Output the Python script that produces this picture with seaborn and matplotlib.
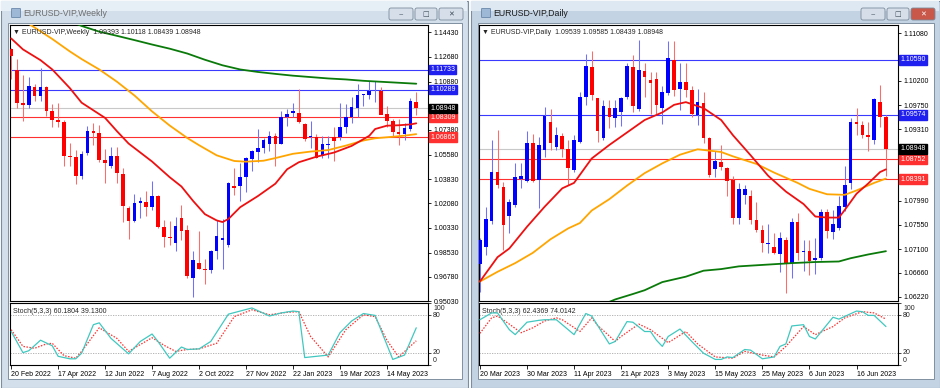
import numpy as np
import matplotlib
matplotlib.use("Agg")
import matplotlib.pyplot as plt
from matplotlib.patches import Rectangle, FancyBboxPatch
import seaborn as sns

sns.set_style("white")
plt.rcParams['font.family'] = ['Liberation Sans', 'DejaVu Sans']

# ---------------- weekly EURUSD (20 Feb 2022 .. 18 Jun 2023) ----------------
w_open = [1.1323, 1.1174, 1.0930, 1.0915, 1.1050, 1.0983, 1.1046, 1.0877, 1.0807, 1.0797,
          1.0553, 1.0546, 1.0405, 1.0570, 1.0733, 1.0719, 1.0518, 1.0480, 1.0553, 1.0420,
          1.0175, 1.0081, 1.0212, 1.0220, 1.0180, 1.0260, 1.0036, 0.9964, 0.9925, 1.0100,
          1.0014, 0.9666, 0.9774, 0.9733, 0.9726, 0.9864, 0.9944, 0.9905, 1.0332, 1.0330,
          1.0395, 1.0525, 1.0582, 1.0611, 1.0640, 1.0696, 1.0640, 1.0829, 1.0861, 1.0861,
          1.0781, 1.0684, 1.0684, 1.0550, 1.0628, 1.0684, 1.0684, 1.0762, 1.0829, 1.0897,
          1.0990, 1.0987, 1.1016, 1.1023, 1.0854, 1.0805, 1.0720, 1.0708, 1.0745, 1.0939]
w_high = [1.1330, 1.1247, 1.1133, 1.1120, 1.1070, 1.1185, 1.1054, 1.0925, 1.0936, 1.0812,
          1.0642, 1.0590, 1.0587, 1.0765, 1.0787, 1.0774, 1.0601, 1.0614, 1.0615, 1.0464,
          1.0190, 1.0277, 1.0254, 1.0294, 1.0368, 1.0272, 1.0090, 1.0080, 1.0113, 1.0199,
          1.0050, 0.9864, 1.0005, 0.9809, 0.9873, 1.0090, 1.0094, 1.0364, 1.0466, 1.0497,
          1.0545, 1.0595, 1.0745, 1.0680, 1.0732, 1.0713, 1.0874, 1.0890, 1.0931, 1.1031,
          1.0790, 1.0805, 1.0708, 1.0691, 1.0696, 1.0760, 1.0930, 1.0926, 1.0973, 1.1072,
          1.0999, 1.1091, 1.1091, 1.1048, 1.0914, 1.0817, 1.0817, 1.0786, 1.0970, 1.1012]
w_low = [1.1106, 1.0900, 1.0805, 1.0899, 1.0945, 1.0945, 1.0837, 1.0757, 1.0760, 1.0478,
         1.0480, 1.0345, 1.0383, 1.0560, 1.0627, 1.0505, 1.0357, 1.0466, 1.0357, 1.0073,
         0.9951, 1.0073, 1.0102, 1.0120, 1.0160, 1.0033, 0.9896, 0.9910, 0.9864, 0.9944,
         0.9668, 0.9532, 0.9733, 0.9629, 0.9705, 0.9806, 0.9733, 0.9896, 1.0272, 1.0222,
         1.0290, 1.0443, 1.0510, 1.0570, 1.0587, 1.0478, 1.0636, 1.0766, 1.0829, 1.0785,
         1.0660, 1.0611, 1.0533, 1.0533, 1.0538, 1.0516, 1.0667, 1.0713, 1.0788, 1.0829,
         1.0910, 1.0963, 1.0942, 1.0850, 1.0760, 1.0696, 1.0631, 1.0667, 1.0732, 1.0844]
w_close = [1.1270, 1.0930, 1.0918, 1.1053, 1.0983, 1.1046, 1.0877, 1.0807, 1.0797, 1.0551,
           1.0546, 1.0405, 1.0562, 1.0733, 1.0719, 1.0518, 1.0497, 1.0553, 1.0425, 1.0187,
           1.0078, 1.0211, 1.0223, 1.0185, 1.0260, 1.0036, 0.9964, 0.9957, 1.0042, 1.0010,
           0.9685, 0.9799, 0.9733, 0.9724, 0.9864, 0.9969, 0.9956, 1.0357, 1.0320, 1.0395,
           1.0535, 1.0585, 1.0611, 1.0665, 1.0696, 1.0640, 1.0829, 1.0854, 1.0873, 1.0793,
           1.0672, 1.0696, 1.0538, 1.0636, 1.0640, 1.0660, 1.0757, 1.0834, 1.0902, 1.0994,
           1.0992, 1.1016, 1.1023, 1.0849, 1.0805, 1.0720, 1.0708, 1.0752, 1.0946, 1.0895]

# moving averages (bar index, price)
w_ma_red_i = [0, 2, 5, 7, 10, 12, 14, 16, 18, 20, 22, 24, 27, 29, 31, 33, 35, 36, 37, 39,
              42, 45, 47, 49, 52, 55, 58, 61, 62, 64, 66, 68, 69]
w_ma_red = [1.1399, 1.1320, 1.1242, 1.1175, 1.1040, 1.0935, 1.0880, 1.0825, 1.0730, 1.0640,
            1.0575, 1.0510, 1.0397, 1.0330, 1.0225, 1.0130, 1.0085, 1.0073, 1.0095, 1.0180,
            1.0260, 1.0350, 1.0454, 1.0505, 1.0545, 1.0575, 1.0623, 1.0696, 1.0745, 1.0769,
            1.0772, 1.0778, 1.0786]
w_ma_orange_i = [2, 4, 7, 10, 12, 15, 18, 21, 24, 27, 30, 32, 35, 38, 40, 43, 45, 48, 51, 54,
                 57, 60, 62, 65, 67, 69]
w_ma_orange = [1.1530, 1.1478, 1.1395, 1.1305, 1.1250, 1.1175, 1.1087, 1.0987, 1.0872, 1.0770,
               1.0680, 1.0628, 1.0555, 1.0514, 1.0509, 1.0516, 1.0535, 1.0566, 1.0582, 1.0593,
               1.0625, 1.0662, 1.0678, 1.0689, 1.0697, 1.0708]
w_ma_green_i = [10, 12, 15, 18, 21, 24, 27, 30, 33, 36, 39, 42, 45, 48, 51, 54, 57, 60, 63, 66, 69]
w_ma_green = [1.1525, 1.1489, 1.1448, 1.1418, 1.1387, 1.1355, 1.1325, 1.1290, 1.1245, 1.1205,
              1.1175, 1.1157, 1.1143, 1.1130, 1.1120, 1.1110, 1.1103, 1.1093, 1.1086, 1.1079, 1.1072]

# weekly stochastic (5,3,3)
w_st_main_i = [0, 2, 3, 5, 7, 8, 10, 11, 12, 14, 15, 17, 20, 22, 24, 25, 27, 29, 30, 32, 34,
               37, 39, 41, 44, 46, 48, 49, 50, 54, 56, 58, 60, 62, 65, 67, 69]
w_st_main = [54, 20, 23, 40, 31, 14, 10, 10, 19, 65, 68, 43, 18, 38, 50, 38, 11, 29, 25, 26, 38,
             82, 87, 92, 79, 84, 87, 86, 12, 16, 52, 71, 83, 80, 9, 16, 60]
w_st_sig_i = [0, 2, 4, 6, 7, 9, 11, 12, 15, 18, 20, 24, 26, 28, 30, 32, 35, 38, 41, 44, 47,
              49, 51, 54, 57, 60, 62, 64, 66, 69]
w_st_sig = [57, 30, 27, 34, 35, 15, 11, 22, 60, 43, 22, 44, 32, 22, 25, 26, 35, 78, 89, 81, 85,
            86, 46, 13, 57, 81, 78, 40, 13, 39]

# ---------------- daily EURUSD (20 Mar 2023 .. 23 Jun 2023) ----------------
d_open = [1.0683, 1.0714, 1.0762, 1.0853, 1.0825, 1.0771, 1.0791, 1.0840, 1.0836, 1.0905,
          1.0837, 1.0893, 1.0945, 1.0898, 1.0919, 1.0894, 1.0855, 1.0908, 1.0991, 1.1045,
          1.0988, 1.0914, 1.0970, 1.0951, 1.0963, 1.0991, 1.1046, 1.0968, 1.1038, 1.1022,
          1.1023, 1.0970, 1.0997, 1.1059, 1.1006, 1.1019, 1.1003, 1.0957, 1.0979, 1.0914,
          1.0858, 1.0871, 1.0859, 1.0837, 1.0767, 1.0810, 1.0807, 1.0764, 1.0745, 1.0719,
          1.0713, 1.0701, 1.0727, 1.0684, 1.0759, 1.0705, 1.0707, 1.0689, 1.0693, 1.0778,
          1.0742, 1.0748, 1.0788, 1.0831, 1.0945, 1.0939, 1.0921, 1.0912, 1.0982, 1.0954]
d_high = [1.0731, 1.0788, 1.0911, 1.0930, 1.0834, 1.0803, 1.0868, 1.0869, 1.0927, 1.0923,
          1.0916, 1.0972, 1.0968, 1.0936, 1.0924, 1.0911, 1.0920, 1.1000, 1.1070, 1.1076,
          1.0988, 1.0985, 1.0985, 1.0985, 1.0991, 1.1053, 1.1068, 1.1095, 1.1053, 1.1037,
          1.1037, 1.1010, 1.1093, 1.1093, 1.1053, 1.1053, 1.1010, 1.1006, 1.0999, 1.0917,
          1.0890, 1.0902, 1.0862, 1.0845, 1.0831, 1.0829, 1.0819, 1.0796, 1.0754, 1.0756,
          1.0739, 1.0742, 1.0733, 1.0767, 1.0777, 1.0727, 1.0727, 1.0730, 1.0783, 1.0783,
          1.0782, 1.0808, 1.0863, 1.0951, 1.0970, 1.0946, 1.0945, 1.0989, 1.1012, 1.0958]
d_low = [1.0631, 1.0699, 1.0757, 1.0822, 1.0709, 1.0740, 1.0788, 1.0822, 1.0834, 1.0834,
         1.0785, 1.0880, 1.0893, 1.0893, 1.0880, 1.0828, 1.0853, 1.0905, 1.0976, 1.0985,
         1.0908, 1.0911, 1.0933, 1.0936, 1.0937, 1.0986, 1.0963, 1.0965, 1.0991, 1.0960,
         1.0960, 1.0941, 1.0994, 1.0993, 1.0966, 1.0990, 1.0954, 1.0939, 1.0905, 1.0843,
         1.0842, 1.0855, 1.0807, 1.0757, 1.0756, 1.0793, 1.0757, 1.0742, 1.0705, 1.0702,
         1.0701, 1.0668, 1.0629, 1.0656, 1.0690, 1.0670, 1.0662, 1.0664, 1.0690, 1.0730,
         1.0728, 1.0746, 1.0780, 1.0820, 1.0920, 1.0915, 1.0890, 1.0903, 1.0935, 1.0844]
d_close = [1.0727, 1.0765, 1.0853, 1.0828, 1.0754, 1.0797, 1.0842, 1.0844, 1.0905, 1.0836,
           1.0901, 1.0956, 1.0905, 1.0920, 1.0895, 1.0859, 1.0911, 1.0991, 1.1048, 1.0994,
           1.0927, 1.0973, 1.0954, 1.0970, 1.0989, 1.1048, 1.0974, 1.1040, 1.1028, 1.1016,
           1.0976, 1.1000, 1.1062, 1.1003, 1.1019, 1.1004, 1.0960, 1.0982, 1.0914, 1.0847,
           1.0872, 1.0861, 1.0836, 1.0767, 1.0820, 1.0820, 1.0764, 1.0745, 1.0721, 1.0722,
           1.0703, 1.0730, 1.0684, 1.0759, 1.0702, 1.0707, 1.0687, 1.0693, 1.0778, 1.0744,
           1.0756, 1.0790, 1.0829, 1.0945, 1.0941, 1.0920, 1.0916, 1.0986, 1.0954, 1.0895]

d_ma_red_i = [0, 3, 5, 8, 11, 14, 16, 19, 22, 25, 28, 31, 33, 35, 38, 41, 43, 46, 49, 52, 55,
              57, 59, 61, 62, 64, 66, 68, 69]
d_ma_red = [1.0650, 1.0695, 1.0711, 1.0751, 1.0788, 1.0822, 1.0832, 1.0877, 1.0902, 1.0925,
            1.0948, 1.0962, 1.0976, 1.0981, 1.0970, 1.0948, 1.0920, 1.0883, 1.0845, 1.0816,
            1.0793, 1.0770, 1.0768, 1.0768, 1.0782, 1.0812, 1.0831, 1.0852, 1.0857]
d_ma_orange_i = [0, 3, 6, 9, 12, 15, 17, 19, 22, 25, 28, 31, 34, 37, 41, 43, 47, 50, 54, 56,
                 59, 62, 64, 67, 69]
d_ma_orange = [1.0650, 1.0668, 1.0684, 1.0703, 1.0728, 1.0748, 1.0758, 1.0781, 1.0802, 1.0827,
               1.0850, 1.0868, 1.0884, 1.0894, 1.0889, 1.0881, 1.0867, 1.0851, 1.0832, 1.0821,
               1.0811, 1.0810, 1.0818, 1.0832, 1.0840]
d_ma_green_i = [21, 23, 26, 28, 31, 35, 38, 41, 44, 47, 50, 53, 57, 61, 63, 66, 69]
d_ma_green = [1.0608, 1.0617, 1.0627, 1.0634, 1.0649, 1.0659, 1.0670, 1.0673, 1.0678, 1.0680,
              1.0682, 1.0684, 1.0686, 1.0687, 1.0693, 1.0700, 1.0706]

d_st_main_i = [0, 2, 3, 5, 6, 8, 10, 11, 13, 16, 18, 19, 22, 23, 25, 26, 28, 29, 30, 31, 32,
               34, 36, 38, 40, 41, 42, 43, 45, 46, 48, 50, 51, 52, 53, 55, 56, 57, 60, 61,
               64, 65, 66, 67, 69]
d_st_main = [73, 84, 84, 57, 49, 69, 72, 73, 73, 49, 83, 79, 34, 38, 70, 69, 54, 54, 40, 30, 46,
             58, 38, 19, 9, 9, 13, 12, 25, 24, 10, 13, 30, 34, 63, 65, 46, 42, 77, 74,
             87, 86, 80, 80, 62]
d_st_sig_i = [0, 2, 3, 5, 7, 9, 11, 13, 14, 17, 19, 20, 23, 24, 27, 29, 32, 35, 37, 40, 43,
              45, 48, 50, 52, 55, 57, 60, 62, 65, 67, 69]
d_st_sig = [51, 76, 79, 66, 52, 60, 71, 76, 73, 54, 76, 64, 38, 46, 66, 57, 36, 54, 34, 13, 11,
            22, 16, 13, 30, 62, 49, 62, 76, 86, 84, 74]

# axis labels (ticks hidden behind a price box get an empty label)
w_dates = ["20 Feb 2022", "17 Apr 2022", "12 Jun 2022", "7 Aug 2022", "2 Oct 2022",
           "27 Nov 2022", "22 Jan 2023", "19 Mar 2023", "14 May 2023"]
d_dates = ["20 Mar 2023", "30 Mar 2023", "11 Apr 2023", "21 Apr 2023", "3 May 2023",
           "15 May 2023", "25 May 2023", "6 Jun 2023", "16 Jun 2023"]
w_ticks = [1.14430, 1.12680, 1.10880, 1.09130, 1.07380, 1.05580, 1.03830, 1.02080,
           1.00330, 0.98530, 0.96780, 0.95030]
w_tick_labels = ["1.14430", "1.12680", "1.10880", "", "1.07380", "1.05580", "1.03830",
                 "1.02080", "1.00330", "0.98530", "0.96780", "0.95030"]
d_ticks = [1.11080, 1.10640, 1.10200, 1.09750, 1.09310, 1.08870, 1.08430, 1.07990,
           1.07550, 1.07100, 1.06660, 1.06220]
d_tick_labels = ["1.11080", "", "1.10200", "1.09750", "1.09310", "", "", "1.07990",
                 "1.07550", "1.07100", "1.06660", "1.06220"]
w_levels = [(1.11733, 'blue'), (1.10289, 'blue'), (1.08309, 'red'), (1.06865, 'red')]
d_levels = [(1.10590, 'blue'), (1.09574, 'blue'), (1.08752, 'red'), (1.08391, 'red')]
last_price = 1.08948

BULL, BEAR = '#0000ff', '#ff0000'
LEVEL = {'blue': '#3a3aff', 'red': '#ff3030'}
W, H = 940, 388
FS = 5.0

fig = plt.figure(figsize=(W / 100, H / 100), dpi=100)
bg = fig.add_axes([0, 0, 1, 1])
bg.set_xlim(0, W)
bg.set_ylim(H, 0)
bg.axis('off')


def px_axes(x0, y0, x1, y1):
    return fig.add_axes([x0 / W, 1 - y1 / H, (x1 - x0) / W, (y1 - y0) / H])


def window(x0, x1, title, active):
    frame = '#c3d3e4' if active else '#d3dfeb'
    bg.add_patch(Rectangle((x0 + 0.5, 0.5), x1 - x0 - 1, H - 1, fc=frame, ec='#7d8da0', lw=0.8))
    bg.add_patch(Rectangle((x0 + 1, 1), x1 - x0 - 2, 10, fc='#dde8f3' if active else '#e6eef6', ec='none'))
    bg.add_patch(Rectangle((x0 + 8, 23), x1 - x0 - 14, 356, fc='white', ec='#8090a0', lw=0.7))
    bg.add_patch(FancyBboxPatch((x0 + 12, 9), 8, 8, boxstyle='round,pad=0.5', fc='#9db8d6', ec='#5a7aa0', lw=0.5))
    bg.text(x0 + 23, 14, title, fontsize=6.3, color='#1a1a1a' if active else '#6e6e6e', va='center')
    bx = x1 - 79
    for k, w in enumerate([24, 22, 24]):
        fc = '#d6dfe9'
        if k == 2 and active:
            fc = '#c9574a'
        bg.add_patch(FancyBboxPatch((bx, 8), w, 12, boxstyle='round,pad=0,rounding_size=2',
                                    fc=fc, ec='#7b8b9b', lw=0.6))
        cx, cy = bx + w / 2, 14
        glyph = ['\u2012', '\u25a1', '\u2715'][k]
        bg.text(cx, cy, glyph, fontsize=5, ha='center', va='center',
                color='white' if (k == 2 and active) else '#3c4a58', family='DejaVu Sans')
        bx += w + 2


def candles(ax, o, h, l, c, min_body):
    o, h, l, c = map(np.asarray, (o, h, l, c))
    idx = np.arange(len(o))
    up = c >= o
    body = np.maximum(np.abs(c - o), min_body)
    ax.vlines(idx[up], l[up], h[up], colors='#7070ff', lw=0.75, zorder=3)
    ax.vlines(idx[~up], l[~up], h[~up], colors='#ff6a6a', lw=0.75, zorder=3)
    ax.bar(idx, body, bottom=np.minimum(o, c), width=0.62,
           color=np.where(up, BULL, BEAR), zorder=4, linewidth=0)


def style_spines(ax):
    for s in ax.spines.values():
        s.set_color('black')
        s.set_linewidth(0.8)


def price_box(ax, y, txt, fc):
    ax.text(1.005, y, txt, transform=ax.get_yaxis_transform(), fontsize=FS, color='white',
            va='center', ha='left', zorder=10, clip_on=False,
            bbox=dict(boxstyle='square,pad=0.18', fc=fc, ec=fc))


def chart(x0, x1, d, header, stoch_txt, dates):
    o, h, l, c = d['ohlc']
    n = len(o)
    ax = px_axes(x0, 25, x1, 301)
    ax.set_facecolor('white')
    candles(ax, o, h, l, c, d['min_body'])
    for idx, vals, col in d['mas']:
        sns.lineplot(x=idx, y=vals, ax=ax, color=col, lw=1.3, zorder=5)
    for val, kind in d['levels']:
        ax.axhline(val, color=LEVEL[kind], lw=0.8, zorder=2)
    ax.axhline(last_price, color='#c8c8c8', lw=0.8, zorder=1)
    ax.set_xlim(d['xlim'])
    ax.set_ylim(d['ylim'])
    ax.set_xticks([])
    ax.yaxis.tick_right()
    ax.set_yticks(d['ticks'])
    ax.set_yticklabels(d['tick_labels'])
    ax.tick_params(axis='y', length=2.5, width=0.6, pad=1.5, labelsize=FS, colors='black')
    ax.set_xlabel('')
    ax.set_ylabel('')
    style_spines(ax)
    for val, kind in d['levels']:
        price_box(ax, val, f"{val:.5f}", LEVEL[kind] if kind == 'red' else '#1f1ff0')
    price_box(ax, last_price, f"{last_price:.5f}", 'black')
    ax.text(0.008, 0.972, header, transform=ax.transAxes, fontsize=FS, va='center', ha='left', zorder=11)

    st = px_axes(x0, 303, x1, 365)
    si, sv, gi, gv = d['stoch']
    sns.lineplot(x=si, y=sv, ax=st, color='#40c8c0', lw=0.9, zorder=4)
    sns.lineplot(x=gi, y=gv, ax=st, color='#ff3030', lw=0.9, linestyle=(0, (1.2, 1.2)), zorder=3)
    for lv in (80, 20):
        st.axhline(lv, color='#a8a8a8', lw=0.6, linestyle=(0, (1.5, 1.5)), zorder=1)
    st.set_xlim(d['xlim'])
    st.set_ylim(0, 100)
    st.yaxis.tick_right()
    st.set_yticks([0, 20, 80, 100])
    st.set_yticklabels([])
    st.tick_params(axis='y', length=2.5, width=0.6)
    for val, yy in (("100", 91), ("80", 80), ("20", 20), ("0", 8)):
        st.text(1.012, yy, val, transform=st.get_yaxis_transform(), fontsize=FS, va='center', ha='left')
    st.set_xticks(np.arange(0, n, 8)[:len(dates)])
    st.set_xticklabels(dates, ha='left')
    st.tick_params(axis='x', length=3, width=0.6, pad=1.2, labelsize=FS, colors='black', bottom=True)
    st.set_xlabel('')
    st.set_ylabel('')
    style_spines(st)
    st.text(0.008, 0.87, stoch_txt, transform=st.transAxes, fontsize=FS, va='center', ha='left')


window(0, 468, "EURUSD-VIP,Weekly", False)
window(470, 940, "EURUSD-VIP,Daily", True)

weekly = dict(ohlc=(w_open, w_high, w_low, w_close), min_body=0.0006,
              mas=[(w_ma_green_i, w_ma_green, '#0a7a0a'), (w_ma_orange_i, w_ma_orange, '#ffa500'),
                   (w_ma_red_i, w_ma_red, '#ee1010')],
              levels=w_levels, xlim=(-0.2, 71.0), ylim=(0.9507, 1.1496),
              ticks=w_ticks, tick_labels=w_tick_labels,
              stoch=(w_st_main_i, w_st_main, w_st_sig_i, w_st_sig))
daily = dict(ohlc=(d_open, d_high, d_low, d_close), min_body=0.00015,
             mas=[(d_ma_green_i, d_ma_green, '#0a7a0a'), (d_ma_orange_i, d_ma_orange, '#ffa500'),
                  (d_ma_red_i, d_ma_red, '#ee1010')],
             levels=d_levels, xlim=(-0.15, 71.05), ylim=(1.06141, 1.11233),
             ticks=d_ticks, tick_labels=d_tick_labels,
             stoch=(d_st_main_i, d_st_main, d_st_sig_i, d_st_sig))

chart(10, 428, weekly, "\u25bc EURUSD-VIP,Weekly  1.09393 1.10118 1.08439 1.08948",
      "Stoch(5,3,3) 60.1804 39.1300", w_dates)
chart(479, 898, daily, "\u25bc EURUSD-VIP,Daily  1.09539 1.09585 1.08439 1.08948",
      "Stoch(5,3,3) 62.4369 74.0142", d_dates)

fig.savefig("out.png", dpi=100)
